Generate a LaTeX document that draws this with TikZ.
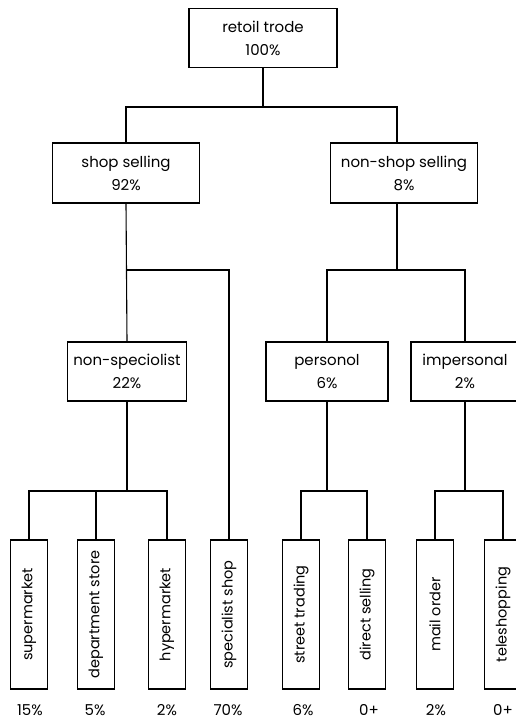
\documentclass[tikz,border=0pt]{standalone}
\usepackage{fontspec}
\setmainfont{Poppins}
\begin{document}
\begin{tikzpicture}[x=1pt,y=-1pt,
  line width=1.1pt,
  every node/.style={font=\fontsize{15}{23}\selectfont, inner sep=0pt},
  box/.style={draw, align=center, minimum height=59pt},
  leaf/.style={draw, minimum width=37pt, minimum height=149pt},
  leaftext/.style={rotate=90, font=\fontsize{14.5}{16}\selectfont},
  pct/.style={font=\fontsize{15}{18}\selectfont, anchor=base}
]
\useasboundingbox (0,0) rectangle (516,721);
\clip (0,0) rectangle (516,721);

% level nodes
\node[box, minimum width=148pt] (root) at (263,38) {retoil trode\\100\%};
\node[box, minimum width=147pt, minimum height=60pt] (shop) at (126,173) {shop selling\\92\%};
\node[box, minimum width=147pt, minimum height=60pt] (nonshop) at (404,173) {non-shop selling\\8\%};
\node[box, minimum width=119pt] (nonspec) at (127,371.5) {non-speciolist\\22\%};
\node[box, minimum width=122pt] (personal) at (327,371.5) {personol\\6\%};
\node[box, minimum width=108pt] (impersonal) at (465,371.5) {impersonal\\2\%};

% leaves
\node[leaf] (supermarket) at (29,614.5) {};
\node[leaftext] at (supermarket) {supermarket};
\node[leaf] (dept) at (96,614.5) {};
\node[leaftext] at (dept) {department store};
\node[leaf] (hyper) at (167,614.5) {};
\node[leaftext] at (hyper) {hypermarket};
\node[leaf] (specialist) at (229,614.5) {};
\node[leaftext] at (specialist) {specialist shop};
\node[leaf] (street) at (301,614.5) {};
\node[leaftext] at (street) {street trading};
\node[leaf] (direct) at (367,614.5) {};
\node[leaftext] at (direct) {direct selling};
\node[leaf] (mail) at (435,614.5) {};
\node[leaftext] at (mail) {mail order};
\node[leaf] (tele) at (503,614.5) {};
\node[leaftext] at (tele) {teleshopping};

% percentages
\node[pct] (p1) at (30,715) {15\%};
\node[pct] (p2) at (95,715) {5\%};
\node[pct] (p3) at (167,715) {2\%};
\node[pct] (p4) at (228,715) {70\%};
\node[pct] (p5) at (303,715) {6\%};
\node[pct] (p6) at (369,715) {0+};
\node[pct] (p7) at (436,715) {2\%};
\node[pct] (p8) at (503,715) {0+};

% connectors
\coordinate (busA) at (263,107);
\coordinate (nsx) at (397,0);
\coordinate (busB) at (0,270);
\coordinate (busC) at (0,491);

\draw (root.south) -- (busA);
\draw (shop.north) |- (busA) -| (nonshop.north -| nsx);

\draw (shop.south) -- (nonspec.north);
\draw (shop.south |- busB) -| (specialist.north);

\draw (nonshop.south -| nsx) -- (nsx |- busB);
\draw (personal.north) |- (nsx |- busB) -| (impersonal.north);

\draw (nonspec.south) -- (nonspec.south |- busC);
\draw (supermarket.north) |- (hyper.north |- busC) -- (hyper.north);
\draw (dept.north) -- (dept.north |- busC);

\draw (personal.south) -- (personal.south |- busC);
\draw (street.north) |- (direct.north |- busC) -- (direct.north);

\draw (impersonal.south) -- (impersonal.south |- busC);
\draw (mail.north) |- (tele.north |- busC) -- (tele.north);
\end{tikzpicture}
\end{document}
